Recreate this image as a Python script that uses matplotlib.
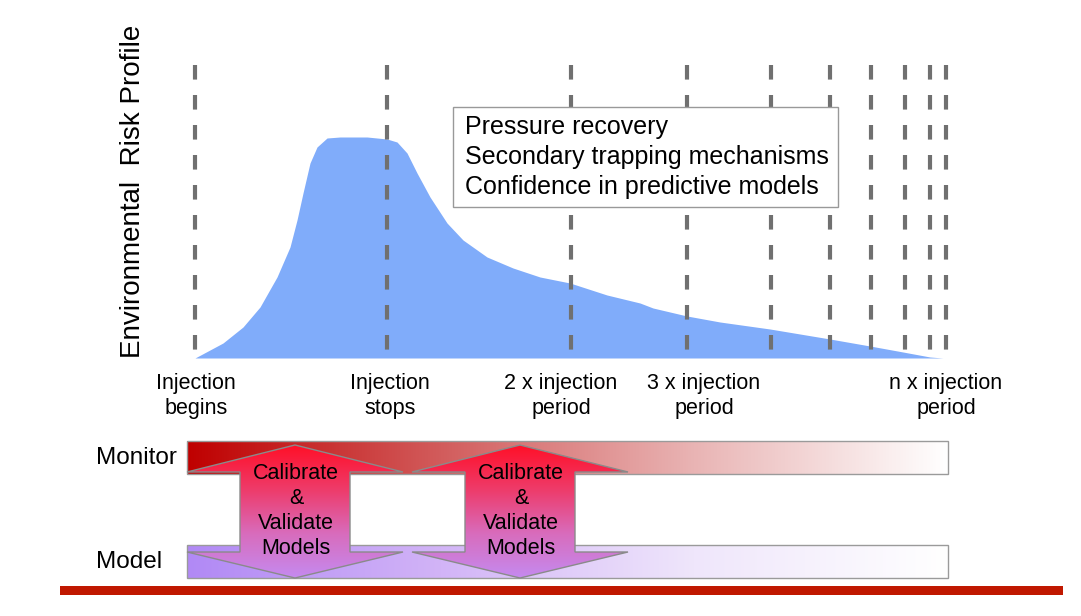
import numpy as np
import matplotlib
matplotlib.use("Agg")
from matplotlib import pyplot as plt
from matplotlib.patches import Polygon, Rectangle
from matplotlib.colors import LinearSegmentedColormap

# diagram values (x in px, risk = height above baseline in px)
curve_x = [195, 223, 243, 260, 277, 290, 297, 303, 310, 317, 327, 340, 367, 387,
           397, 407, 417, 430, 447, 463, 487, 513, 540, 570, 607, 640, 653, 687,
           720, 770, 830, 870, 903, 930, 943]
curve_risk = [0, 15, 31, 51, 81, 111, 138, 165, 195, 211, 220, 221, 221, 219,
              216, 205, 185, 161, 135, 118, 101, 90, 81, 75, 63, 55, 50, 42,
              36, 29, 19, 12, 6, 1, 0]
dash_x = [195, 387, 571, 687, 771, 830, 871, 905, 930, 946]
dash_top = 293
tick_x = [196, 390, 561, 704, 946]
tick_labels = ["Injection\nbegins", "Injection\nstops", "2 x injection\nperiod",
               "3 x injection\nperiod", "n x injection\nperiod"]
box_lines = ["Pressure recovery", "Secondary trapping mechanisms", "Confidence in predictive models"]
arrow_centers = [295, 520]
arrow_text = "Calibrate\n&\nValidate\nModels"

W, H = 1081, 616
fig = plt.figure(figsize=(W / 100, H / 100), dpi=100)
plt.rcParams['font.family'] = ['Liberation Sans', 'DejaVu Sans']

# top risk profile
base = 358
ax = fig.add_axes([0, (H - base) / H, 1, (base - 20) / H])
ax.set_xlim(0, W)
ax.set_ylim(0, base - 20)
ax.axis('off')
ax.fill_between(curve_x, 0, curve_risk, color='#80acfa', lw=0)
for x in dash_x:
    ax.plot([x, x], [dash_top, 0], color='#707070', lw=3, dashes=(3.5, 3.7),
            solid_capstyle='butt', dash_capstyle='butt')

fig.text(133 / W, 1 - 191 / H, "Environmental  Risk Profile", rotation=90,
         ha='center', va='center', fontsize=20)
for x, lab in zip(tick_x, tick_labels):
    fig.text(x / W, 1 - 396 / H, lab, ha='center', va='center', fontsize=15.5,
             linespacing=1.2)

# text box
ax2 = fig.add_axes([0, 0, 1, 1])
ax2.set_xlim(0, W)
ax2.set_ylim(H, 0)
ax2.axis('off')
ax2.add_patch(Rectangle((453, 107), 385, 100, fc='white', ec='#999999', lw=1, zorder=5))
for i, line in enumerate(box_lines):
    ax2.text(465, 127 + 30 * i, line, ha='left', va='center', fontsize=18, zorder=6)

# monitor / model bars
red_cm = LinearSegmentedColormap.from_list('r', ['#bf0000', '#d25c5c', '#e9b4b4', '#ffffff'])
pur_cm = LinearSegmentedColormap.from_list('p', ['#b189f5', '#d2b4f7', '#efe6fb', '#ffffff'])
grad_h = np.linspace(0, 1, 256).reshape(1, -1)
for (y0, y1, cm, lab) in [(441, 474, red_cm, "Monitor"), (545, 578, pur_cm, "Model")]:
    ax2.imshow(grad_h, cmap=cm, extent=(187, 948, y1, y0), aspect='auto', zorder=1)
    ax2.add_patch(Rectangle((187, y0), 761, y1 - y0, fc='none', ec='#9a9a9a', lw=1, zorder=2))
    ax2.text(96, (y0 + y1) / 2, lab, ha='left', va='center', fontsize=17.5)

# double-headed arrows
arr_cm = LinearSegmentedColormap.from_list('a', ['#ff1028', '#ee3b6a', '#d86cbc', '#c58af0'])
grad_v = np.linspace(0, 1, 256).reshape(-1, 1)
for cx in arrow_centers:
    pts = [(cx, 445), (cx + 108, 472), (cx + 55, 472), (cx + 55, 552), (cx + 108, 552),
           (cx, 578), (cx - 108, 552), (cx - 55, 552), (cx - 55, 472), (cx - 108, 472)]
    poly = Polygon(pts, closed=True, fc='none', ec='#8a8a8a', lw=1, zorder=4)
    ax2.add_patch(poly)
    im = ax2.imshow(grad_v, cmap=arr_cm, extent=(cx - 108, cx + 108, 578, 445),
                    aspect='auto', zorder=3)
    im.set_clip_path(poly)
    ax2.text(cx + 1, 511, arrow_text, ha='center', va='center', fontsize=15.5,
             linespacing=1.25, zorder=5)

ax2.add_patch(Rectangle((60, 586), 1003, 9, fc='#c01800', ec='none'))
ax2.set_xlim(0, W)
ax2.set_ylim(H, 0)

fig.savefig("out.png", dpi=100)
